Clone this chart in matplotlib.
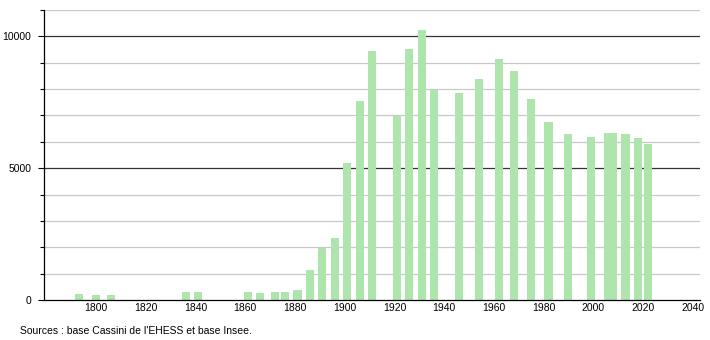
import matplotlib
matplotlib.use("Agg")
import matplotlib.pyplot as plt
from matplotlib.ticker import MultipleLocator

plt.rcParams['font.family'] = ['Liberation Sans', 'DejaVu Sans']

years = [1793, 1800, 1806, 1836, 1841, 1861, 1866, 1872, 1876, 1881,
         1886, 1891, 1896, 1901, 1906, 1911, 1921, 1926, 1931, 1936,
         1946, 1954, 1962, 1968, 1975, 1982, 1990, 1999, 2006, 2008,
         2013, 2018, 2022]
population = [230, 180, 185, 320, 320, 316, 278, 316, 316, 369,
              1129, 1966, 2357, 5209, 7567, 9441, 6985, 9532, 10250, 7965,
              7870, 8390, 9150, 8669, 7643, 6757, 6312, 6198, 6320, 6350,
              6312, 6160, 5932]
x_ticks = [1800, 1820, 1840, 1860, 1880, 1900, 1920, 1940, 1960, 1980, 2000, 2020, 2040]
y_ticks = [0, 5000, 10000]

fig = plt.figure(figsize=(7.1, 3.4), dpi=100)
ax = fig.add_axes([0.062, 0.1176, 0.924, 0.853])

# grid: light every 1000, dark at 5000 / 10000
for v in range(1000, 11001, 1000):
    if v % 5000 == 0:
        ax.axhline(v, color='#333333', lw=0.9, zorder=1)
    else:
        ax.axhline(v, color='#c8c8c8', lw=0.9, zorder=1)

ax.bar(years, population, width=3.3, color='#ade5ad', zorder=2)

ax.set_xlim(1779, 2043)
ax.set_ylim(0, 11000)
ax.set_xticks(x_ticks)
ax.set_yticks(y_ticks)
ax.yaxis.set_minor_locator(MultipleLocator(1000))
ax.tick_params(axis='x', length=0, pad=2, labelsize=7.5)
ax.tick_params(axis='y', which='major', length=4, width=0.8, pad=5, labelsize=7.5)
ax.tick_params(axis='y', which='minor', length=3, width=0.8)

for s in ['top', 'right']:
    ax.spines[s].set_visible(False)
ax.spines['left'].set_linewidth(0.9)
ax.spines['bottom'].set_linewidth(0.9)

fig.text(0.028, 0.012, "Sources : base Cassini de l'EHESS et base Insee.", fontsize=7.5, ha='left', va='bottom')

fig.savefig('out.png', dpi=100)
